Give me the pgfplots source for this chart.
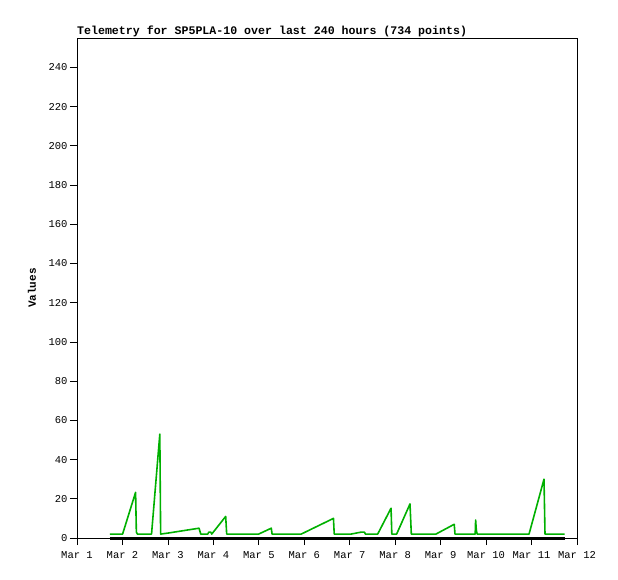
\documentclass[border=0pt]{standalone}
\usepackage{fontspec}
\setmainfont{Liberation Mono}
\usepackage{pgfplots}
\pgfplotsset{compat=1.18}
\definecolor{tgreen}{RGB}{0,176,0}
\begin{document}
\begin{tikzpicture}[x=1pt,y=1pt]
\useasboundingbox (0,0) rectangle (618,579);
\begin{axis}[
  at={(77pt,41pt)}, anchor=south west,
  width=500pt, height=500pt, scale only axis,
  xmin=1, xmax=12, ymin=0, ymax=255,
  xtick={1,...,12},
  xticklabels={Mar 1,Mar 2,Mar 3,Mar 4,Mar 5,Mar 6,Mar 7,Mar 8,Mar 9,Mar 10,Mar 11,Mar 12},
  ytick={0,20,...,240},
  tick pos=left, tick align=outside, major tick length=7pt,
  tick style={black, line width=0.8pt},
  axis line style={line width=0.8pt},
  /pgf/number format/assume math mode=true,
  ticklabel style={font=\fontsize{10.5}{12}\selectfont},
  xticklabel style={yshift=-3pt},
  yticklabel style={xshift=1pt},
  ylabel={Values},
  ylabel style={at={(axis description cs:-0.09,0.5)}, anchor=center, font=\bfseries\fontsize{11}{13}\selectfont},
  clip=false,
]
\addplot[black, line width=3pt] coordinates {(1.724,0) (11.729,0)};
\addplot[tgreen, line width=1.6pt, line join=round] coordinates {
(1.724,2) (2.003,2) (2.289,23.3) (2.306,3) (2.33,2) (2.640,2) (2.822,53) (2.840,2)
(2.998,2.5) (3.685,5) (3.722,2) (3.876,2) (3.90,3) (3.942,3) (3.964,2) (4.271,11)
(4.293,2) (4.996,2) (5.274,5) (5.292,2) (5.933,2) (6.642,10) (6.659,2) (7.031,2)
(7.25,3) (7.323,3) (7.345,2) (7.615,2) (7.909,15.2) (7.926,2) (8.032,2) (8.326,17.4)
(8.355,2) (8.897,2) (9.299,7) (9.316,2) (9.760,2) (9.770,9.2) (9.785,4) (9.804,2)
(10.945,2) (11.274,30) (11.296,2) (11.729,2)
};
\path (rel axis cs:0,1) node[anchor=south west, inner sep=0pt, yshift=1pt, font=\bfseries\fontsize{11.6}{13}\selectfont] {Telemetry for SP5PLA-10 over last 240 hours (734 points)};
\end{axis}
\end{tikzpicture}
\end{document}
